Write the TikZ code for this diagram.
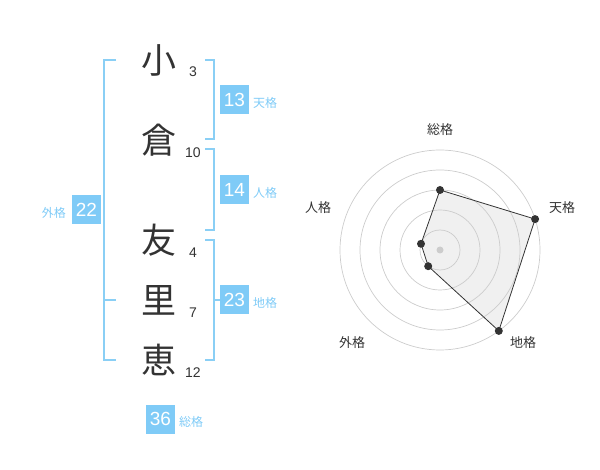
\documentclass[tikz,border=0pt]{standalone}
\usepackage{fontspec}
\setmainfont{Liberation Sans}
\newfontfamily\jp{Noto Sans CJK JP}
\definecolor{bl}{HTML}{7FCBF7}
\definecolor{br}{HTML}{8ACFF5}
\definecolor{dk}{HTML}{333333}
\definecolor{ring}{HTML}{CCCCCC}
\definecolor{fillg}{HTML}{F0F0F0}
\begin{document}
\begin{tikzpicture}[x=1pt,y=-1pt,
  kanji/.style={font=\jp\fontsize{35}{35}\selectfont,text=dk,inner sep=0pt},
  strokes/.style={font=\fontsize{14}{14}\selectfont,text=dk,inner sep=0pt},
  numbox/.style={fill=bl,text=white,minimum width=29pt,minimum height=29pt,inner sep=0pt,font=\fontsize{19}{19}\selectfont},
  kaku/.style={font=\jp\fontsize{12}{12}\selectfont,text=bl,inner sep=0pt},
  rlabel/.style={font=\jp\fontsize{13}{13}\selectfont,text=dk,inner sep=0pt},
  brk/.style={draw=br,line width=2pt},
  dot/.style={circle,fill=dk,inner sep=0pt,minimum size=8pt}]
\useasboundingbox (0,0) rectangle (600,470);
% characters
\node[kanji] (k1) at (159,60) {小};
\node[kanji] (k2) at (159,140) {倉};
\node[kanji] (k3) at (159,240) {友};
\node[kanji] (k4) at (159,300) {里};
\node[kanji] (k5) at (159,360) {恵};
\node[strokes] (s1) at (193,72) {3};
\node[strokes] (s2) at (193,153) {10};
\node[strokes] (s3) at (193,253) {4};
\node[strokes] (s4) at (193,313) {7};
\node[strokes] (s5) at (193,373) {12};
% brackets
\draw[brk] (116,60) -- (104,60) -- (104,360) -- (116,360);
\draw[brk] (104,300) -- (116,300);
\draw[brk] (205,60) -- (214,60) -- (214,139) -- (205,139);
\draw[brk] (205,149) -- (214,149) -- (214,230) -- (205,230);
\draw[brk] (205,240) -- (214,240) -- (214,360) -- (205,360);
\draw[brk] (214,300) -- (220,300);
% boxes
\node[numbox] (b13) at (234.5,100) {13};
\node[kaku,anchor=west] (l13) at (253,103) {天格};
\node[numbox] (b14) at (234.5,190) {14};
\node[kaku,anchor=west] (l14) at (253,193) {人格};
\node[numbox] (b23) at (234.5,300) {23};
\node[kaku,anchor=west] (l23) at (253,303) {地格};
\node[numbox] (b22) at (86.5,210) {22};
\node[kaku,anchor=east] (l22) at (66,213) {外格};
\node[numbox] (b36) at (160.5,419) {36};
\node[kaku,anchor=west] (l36) at (179,422) {総格};
% radar
\coordinate (c) at (440,250);
\path (c) ++(0,-60) coordinate (pS)
      (c) ++(95.1,-30.9) coordinate (pT)
      (c) ++(58.8,80.9) coordinate (pC)
      (c) ++(-11.8,16.2) coordinate (pG)
      (c) ++(-19.0,-6.2) coordinate (pJ);
\fill[fillg] (pS) -- (pT) -- (pC) -- (pG) -- (pJ) -- cycle;
\foreach \r in {20,40,60,80,100} \draw[ring,line width=0.7pt] (c) circle[radius=\r pt];
\fill[ring] (c) circle[radius=3.5pt];
\draw[dk,line width=0.8pt] (pS) -- (pT) -- (pC) -- (pG) -- (pJ) -- cycle;
\foreach \p in {pS,pT,pC,pG,pJ} \node[dot] at (\p) {};
\node[rlabel] (rS) at (440,130) {総格};
\node[rlabel] (rT) at (562,208) {天格};
\node[rlabel] (rC) at (523,343) {地格};
\node[rlabel] (rG) at (352,343) {外格};
\node[rlabel] (rJ) at (318,208) {人格};
\end{tikzpicture}
\end{document}
